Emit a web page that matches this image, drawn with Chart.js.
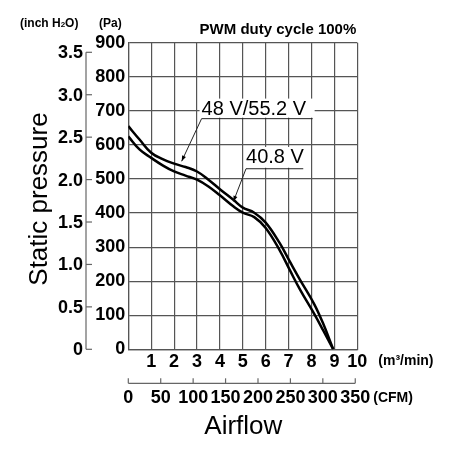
<!DOCTYPE html>
<html>
<head>
<meta charset="utf-8">
<script src="https://cdn.jsdelivr.net/npm/chart.js@4/dist/chart.umd.min.js"></script>
<style>
  html, body { margin: 0; padding: 0; background: #fff; }
  canvas { display: block; }
</style>
</head>
<body>
<canvas id="c" width="450" height="450" style="width:450px;height:450px"></canvas>
<script>
// ---- data ----
const flow48 = [0, 0.5, 1.0, 1.5, 2.0, 2.5, 3.0, 3.5, 4.0, 4.6, 5.0, 5.5, 6.0, 6.6, 7.05, 7.5, 8.1, 8.5, 8.95];
const pa48   = [655, 615, 577, 558, 545, 535, 522, 498, 470, 438, 416, 401, 372, 313, 258, 204, 135, 77, 0];
const flow408 = [0, 0.5, 1.0, 1.5, 2.0, 2.5, 3.0, 3.5, 4.0, 4.6, 5.0, 5.5, 6.0, 6.6, 7.05, 7.5, 8.1, 8.5, 8.95];
const pa408   = [625, 586, 562, 540, 522, 510, 498, 478, 452, 419, 401, 388, 356, 292, 233, 175, 106, 57, 0];

const seriesNames = ['48 V/55.2 V', '40.8 V'];
const xTicksM3 = [0, 1, 2, 3, 4, 5, 6, 7, 8, 9, 10];
const yTicksPa = [0, 100, 200, 300, 400, 500, 600, 700, 800, 900];
const inchTicks = [0, 0.5, 1.0, 1.5, 2.0, 2.5, 3.0, 3.5];
const inchLabels = ['0', '0.5', '1.0', '1.5', '2.0', '2.5', '3.0', '3.5'];
const cfmTicks = [0, 50, 100, 150, 200, 250, 300, 350];
const PA_PER_INCH = 249.089;
const CFM_PER_M3 = 35.3147;

const titleText = 'PWM duty cycle 100%';
const yTitle = 'Static pressure';
const xTitle = 'Airflow';

// ---- styles ----
const SANS = '"Liberation Sans", Arial, Helvetica, sans-serif';
const GRID = '#555';
const tickFont = { family: SANS, size: 18, weight: 'bold' };

// annotation anchors in data units
const annots = [
  { text: seriesNames[0], x0: 3.2, x1: 8.05, yBase: 689, yLine: 677, tip: { x: 2.33, y: 552 } },
  { text: seriesNames[1], x0: 5.14, x1: 7.64, yBase: 547, yLine: 530, tip: { x: 4.59, y: 434 } }
];

const decor = {
  id: 'decor',
  afterDraw(chart) {
    const { ctx, chartArea: ca } = chart;
    const xs = chart.scales.x, ys = chart.scales.y;
    ctx.save();

    // inch H2O axis
    const ax = ca.left - 42.3;
    ctx.strokeStyle = '#666';
    ctx.lineWidth = 1.2;
    ctx.beginPath();
    ctx.moveTo(ax, ys.getPixelForValue(0));
    ctx.lineTo(ax, ys.getPixelForValue(3.5 * PA_PER_INCH));
    ctx.stroke();
    ctx.font = 'bold 18px ' + SANS;
    ctx.fillStyle = '#000';
    ctx.textAlign = 'right';
    ctx.textBaseline = 'middle';
    inchTicks.forEach((v, i) => {
      const py = ys.getPixelForValue(v * PA_PER_INCH);
      ctx.beginPath();
      ctx.moveTo(ax, py);
      ctx.lineTo(ax + 6, py);
      ctx.stroke();
      ctx.fillText(inchLabels[i], ax - 3, py + 1);
    });

    // CFM axis
    const cy = ca.bottom + 34;
    ctx.beginPath();
    ctx.moveTo(xs.getPixelForValue(0), cy);
    ctx.lineTo(xs.getPixelForValue(350 / CFM_PER_M3), cy);
    ctx.stroke();
    ctx.textAlign = 'center';
    cfmTicks.forEach(v => {
      const px = xs.getPixelForValue(v / CFM_PER_M3);
      ctx.beginPath();
      ctx.moveTo(px, cy);
      ctx.lineTo(px, cy - 5);
      ctx.stroke();
      ctx.fillText(String(v), px, cy + 15);
    });

    // unit labels
    ctx.font = 'bold 14px ' + SANS;
    ctx.textAlign = 'left';
    ctx.fillText('(m\u00B3/min)', ca.right + 21, ca.bottom + 12);
    ctx.fillText('(CFM)', ca.right + 16, cy + 15);
    ctx.font = 'bold 12px ' + SANS;
    ctx.textBaseline = 'alphabetic';
    ctx.fillText('(inch H', 20, 26.5);
    let w = ctx.measureText('(inch H').width;
    ctx.font = 'bold 8px ' + SANS;
    ctx.fillText('2', 20 + w, 26.5);
    let w2 = ctx.measureText('2').width;
    ctx.font = 'bold 12px ' + SANS;
    ctx.fillText('O)', 20 + w + w2, 26.5);
    ctx.fillText('(Pa)', 99, 26.5);

    // title
    ctx.font = 'bold 15px ' + SANS;
    ctx.textAlign = 'right';
    ctx.fillText(titleText, ca.right - 1, 33.5);

    // axis titles
    ctx.font = '26px ' + SANS;
    ctx.textAlign = 'center';
    ctx.fillText(xTitle, (ca.left + ca.right) / 2 + 0.5, 433.5);
    ctx.save();
    ctx.translate(46.5, 199);
    ctx.rotate(-Math.PI / 2);
    ctx.fillText(yTitle, 0, 0);
    ctx.restore();

    // annotations
    ctx.font = '20px ' + SANS;
    ctx.textAlign = 'left';
    ctx.textBaseline = 'alphabetic';
    annots.forEach(a => {
      const x0 = xs.getPixelForValue(a.x0), x1 = xs.getPixelForValue(a.x1);
      const yb = ys.getPixelForValue(a.yBase), yl = ys.getPixelForValue(a.yLine);
      const tw = ctx.measureText(a.text).width;
      ctx.fillStyle = '#fff';
      ctx.fillRect(x0 - 2, yb - 16, Math.max(tw, x1 - x0) + 4, yl - (yb - 16) - 1);
      ctx.fillStyle = '#000';
      ctx.fillText(a.text, x0, yb);
      ctx.strokeStyle = '#222';
      ctx.lineWidth = 1;
      ctx.beginPath();
      ctx.moveTo(x1, yl);
      ctx.lineTo(x0, yl);
      const tx = xs.getPixelForValue(a.tip.x), ty = ys.getPixelForValue(a.tip.y);
      ctx.lineTo(tx, ty);
      ctx.stroke();
      const ang = Math.atan2(ty - yl, tx - x0);
      ctx.beginPath();
      ctx.moveTo(tx, ty);
      ctx.lineTo(tx - 6 * Math.cos(ang - 0.35), ty - 6 * Math.sin(ang - 0.35));
      ctx.lineTo(tx - 6 * Math.cos(ang + 0.35), ty - 6 * Math.sin(ang + 0.35));
      ctx.closePath();
      ctx.fillStyle = '#000';
      ctx.fill();
    });

    ctx.restore();
  }
};

const toPts = (xs, ys) => xs.map((x, i) => ({ x, y: ys[i] }));

new Chart(document.getElementById('c'), {
  type: 'line',
  data: {
    datasets: [
      { label: seriesNames[0], data: toPts(flow48, pa48), borderColor: '#000', borderWidth: 2.5,
        pointRadius: 0, fill: false, tension: 0.4 },
      { label: seriesNames[1], data: toPts(flow408, pa408), borderColor: '#000', borderWidth: 2.5,
        pointRadius: 0, fill: false, tension: 0.4 }
    ]
  },
  options: {
    responsive: false,
    animation: false,
    events: [],
    layout: { padding: { left: 88.3, right: 92.7, top: 42.7, bottom: 70.7 } },
    plugins: { legend: { display: false }, tooltip: { enabled: false }, title: { display: false } },
    scales: {
      x: {
        type: 'linear', min: 0, max: 10,
        afterBuildTicks: s => { s.ticks = xTicksM3.map(v => ({ value: v })); },
        ticks: { font: tickFont, color: '#000', padding: 2, maxRotation: 0, autoSkip: false,
                 callback: v => (v === 0 ? '' : String(v)) },
        grid: { color: GRID, lineWidth: 1.2, drawTicks: false },
        border: { color: GRID, width: 1.2 },
        afterFit: s => { s.height = 30; }
      },
      y: {
        type: 'linear', min: 0, max: 900,
        afterBuildTicks: s => { s.ticks = yTicksPa.map(v => ({ value: v })); },
        ticks: { font: tickFont, color: '#000', padding: 3, autoSkip: false, callback: v => String(v) },
        grid: { color: GRID, lineWidth: 1.2, drawTicks: false },
        border: { color: GRID, width: 1.2 },
        afterFit: s => { s.width = 40; }
      }
    }
  },
  plugins: [decor]
});
</script>
</body>
</html>
